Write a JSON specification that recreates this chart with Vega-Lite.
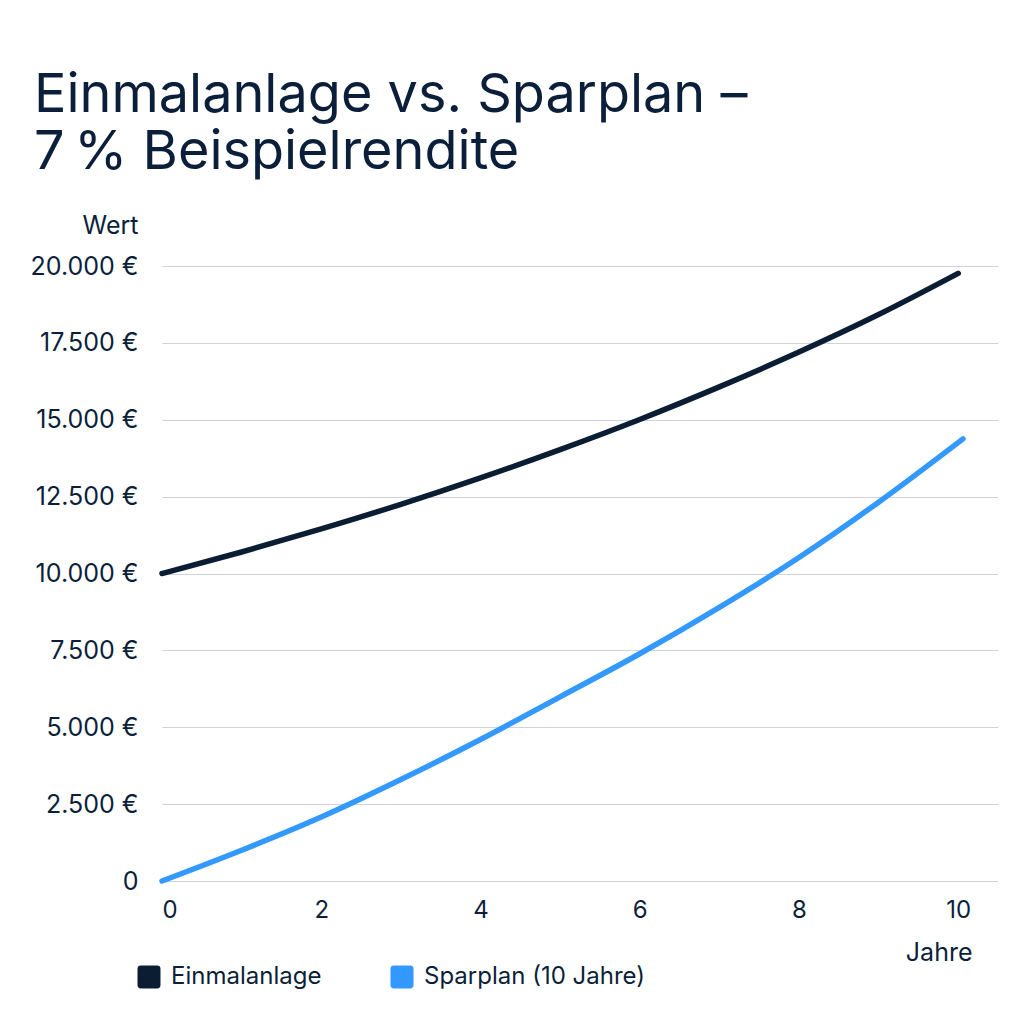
{
  "$schema": "https://vega.github.io/schema/vega-lite/v6.json",
  "width": 836,
  "height": 615,
  "autosize": "none",
  "padding": {"left": 162, "top": 266, "right": 26, "bottom": 143},
  "background": "#ffffff",
  "title": {
    "text": ["Einmalanlage vs. Sparplan –", "7\u2009% Beispielrendite"],
    "anchor": "start",
    "frame": "group",
    "dx": -128,
    "fontSize": 54,
    "font": "Inter",
    "fontWeight": 400,
    "color": "#0b1f3a",
    "lineHeight": 57,
    "offset": 33
  },
  "data": {
    "values": [
      {"t": 0, "v": 10000, "s": "Einmalanlage"},
      {"t": 1, "v": 10700, "s": "Einmalanlage"},
      {"t": 2, "v": 11450, "s": "Einmalanlage"},
      {"t": 3, "v": 12250, "s": "Einmalanlage"},
      {"t": 4, "v": 13110, "s": "Einmalanlage"},
      {"t": 5, "v": 14030, "s": "Einmalanlage"},
      {"t": 6, "v": 15010, "s": "Einmalanlage"},
      {"t": 7, "v": 16070, "s": "Einmalanlage"},
      {"t": 8, "v": 17200, "s": "Einmalanlage"},
      {"t": 9, "v": 18420, "s": "Einmalanlage"},
      {"t": 10, "v": 19760, "s": "Einmalanlage"},
      {"t": 0, "v": 0, "s": "Sparplan (10 Jahre)"},
      {"t": 1, "v": 1000, "s": "Sparplan (10 Jahre)"},
      {"t": 2, "v": 2080, "s": "Sparplan (10 Jahre)"},
      {"t": 3, "v": 3300, "s": "Sparplan (10 Jahre)"},
      {"t": 4, "v": 4600, "s": "Sparplan (10 Jahre)"},
      {"t": 5, "v": 5990, "s": "Sparplan (10 Jahre)"},
      {"t": 6, "v": 7390, "s": "Sparplan (10 Jahre)"},
      {"t": 7, "v": 8900, "s": "Sparplan (10 Jahre)"},
      {"t": 8, "v": 10520, "s": "Sparplan (10 Jahre)"},
      {"t": 9, "v": 12320, "s": "Sparplan (10 Jahre)"},
      {"t": 10.06, "v": 14380, "s": "Sparplan (10 Jahre)"}
    ]
  },
  "mark": {"type": "line", "strokeWidth": 5.5, "strokeCap": "round", "strokeJoin": "round", "interpolate": "monotone"},
  "encoding": {
    "x": {
      "field": "t", "type": "quantitative",
      "scale": {"domain": [0, 10.5], "nice": false, "zero": false},
      "axis": {
        "title": "Jahre",
        "values": [0, 2, 4, 6, 8, 10],
        "grid": false, "domain": false, "ticks": false,
        "labelPadding": 17,
        "labelFontSize": 24, "labelFont": "Inter", "labelColor": "#0b1f3a",
        "titleFontSize": 25, "titleFont": "Inter", "titleFontWeight": 400, "titleColor": "#0b1f3a",
        "titleAnchor": "start", "titleAlign": "right", "titleBaseline": "alphabetic",
        "titleX": 810, "titleY": 79
      }
    },
    "y": {
      "field": "v", "type": "quantitative",
      "scale": {"domain": [0, 20000], "nice": false},
      "axis": {
        "title": "Wert",
        "values": [0, 2500, 5000, 7500, 10000, 12500, 15000, 17500, 20000],
        "labelExpr": "datum.value == 0 ? '0' : replace(format(datum.value, ',.0f'), ',', '.') + ' €'",
        "domain": false, "ticks": false,
        "labelPadding": 24,
        "gridColor": "#cfd3e0", "gridWidth": 1,
        "labelFontSize": 25, "labelFont": "Inter", "labelColor": "#0b1f3a",
        "titleFontSize": 25, "titleFont": "Inter", "titleFontWeight": 400, "titleColor": "#0b1f3a",
        "titleAngle": 0, "titleAlign": "right", "titleBaseline": "alphabetic",
        "titleAnchor": "start",
        "titleX": -24, "titleY": -33
      }
    },
    "color": {
      "field": "s", "type": "nominal",
      "scale": {"domain": ["Einmalanlage", "Sparplan (10 Jahre)"], "range": ["#0b1d33", "#3399ff"]},
      "legend": {
        "title": null,
        "orient": "none",
        "direction": "horizontal",
        "legendX": -25,
        "legendY": 699,
        "symbolType": "M-0.7,-1L0.7,-1Q1,-1 1,-0.7L1,0.7Q1,1 0.7,1L-0.7,1Q-1,1 -1,0.7L-1,-0.7Q-1,-1 -0.7,-1Z",
        "symbolSize": 529,
        "symbolStrokeWidth": 0,
        "symbolOpacity": 1,
        "labelOffset": 10,
        "labelLimit": 400,
        "columnPadding": 68,
        "labelFontSize": 24, "labelFont": "Inter", "labelColor": "#0b1f3a",
        "encode": {
          "symbols": {"update": {"fill": {"scale": "color", "field": "value"}, "strokeWidth": {"value": 0}}}
        }
      }
    }
  },
  "config": {"view": {"stroke": null}}
}
